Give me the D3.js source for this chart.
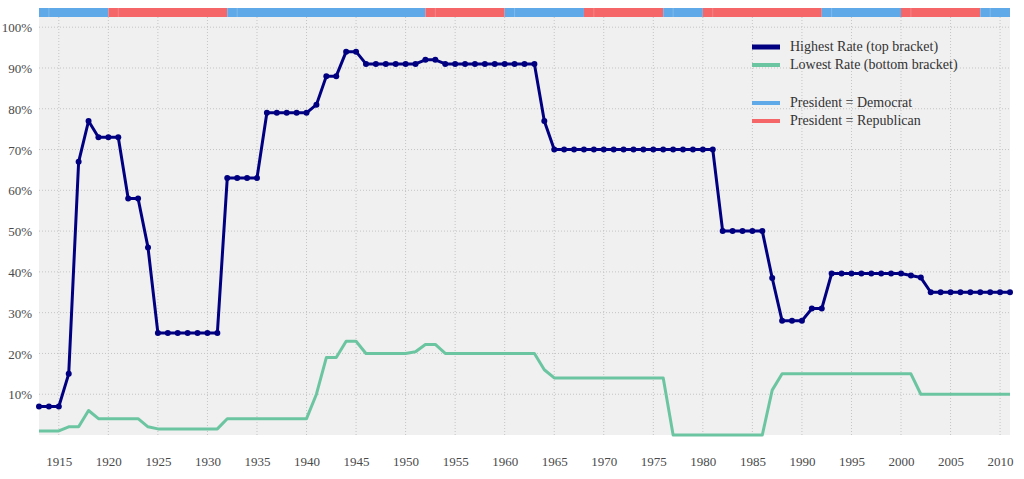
<!DOCTYPE html>
<html>
<head>
<meta charset="utf-8">
<script src="https://cdn.jsdelivr.net/npm/d3@7"></script>
<style>
  body { margin: 0; background: #fff; }
  svg text { font-family: "Liberation Serif", "DejaVu Serif", serif; fill: #4a4a4a; }
</style>
</head>
<body>
<svg id="chart" width="1024" height="479"></svg>
<script>
// tax years shown
var years = d3.range(1913, 2012);

// top marginal rate, %
var highestRate = [
  7, 7, 7, 15, 67, 77, 73, 73, 73, 58, 58, 46, 25, 25, 25, 25, 25, 25, 25,
  63, 63, 63, 63, 79, 79, 79, 79, 79, 81, 88, 88, 94, 94,
  91, 91, 91, 91, 91, 91, 92, 92, 91, 91, 91, 91, 91, 91, 91, 91, 91, 91,
  77,
  70, 70, 70, 70, 70, 70, 70, 70, 70, 70, 70, 70, 70, 70, 70, 70, 70,
  50, 50, 50, 50, 50,
  38.5, 28, 28, 28, 31, 31,
  39.6, 39.6, 39.6, 39.6, 39.6, 39.6, 39.6, 39.6, 39.1, 38.6,
  35, 35, 35, 35, 35, 35, 35, 35, 35
];

// bottom bracket rate, %
var lowestRate = [
  1, 1, 1, 2, 2, 6, 4, 4, 4, 4, 4, 2,
  1.5, 1.5, 1.5, 1.5, 1.5, 1.5, 1.5,
  4, 4, 4, 4, 4, 4, 4, 4, 4,
  10, 19, 19, 23, 23,
  20, 20, 20, 20, 20, 20.4, 22.2, 22.2,
  20, 20, 20, 20, 20, 20, 20, 20, 20, 20,
  16,
  14, 14, 14, 14, 14, 14, 14, 14, 14, 14, 14, 14,
  0, 0, 0, 0, 0, 0, 0, 0, 0, 0,
  11,
  15, 15, 15, 15, 15, 15, 15, 15, 15, 15, 15, 15, 15, 15,
  10, 10, 10, 10, 10, 10, 10, 10, 10, 10
];

// president's party, by term start
var termStarts  = [1913, 1920, 1932, 1952, 1960, 1968, 1976, 1980, 1992, 2000, 2008];
var termParties = ['D', 'R', 'D', 'R', 'D', 'R', 'D', 'R', 'D', 'R', 'D'];

var xTicks = d3.range(1915, 2011, 5);
var yTicks = [10, 20, 30, 40, 50, 60, 70, 80, 90, 100];

var navy = '#000080';
var green = '#6cc5a1';
var partyColor = { D: '#5fa9e8', R: '#f46667' };

// note: "top" is taken by window.top, so name the box edges plainly
var plotLeft = 39, plotRight = 1010, plotTop = 17, plotBottom = 435;

var x = d3.scaleLinear().domain([1913, 2011]).range([plotLeft, plotRight]);
var y = d3.scaleLinear().domain([0, 102.5]).range([plotBottom, plotTop]);

var svg = d3.select('#chart');

// plot background
svg.append('rect')
  .attr('x', plotLeft).attr('y', plotTop)
  .attr('width', plotRight - plotLeft).attr('height', plotBottom - plotTop)
  .style('fill', '#f0f0f0');

// grid
svg.append('g')
  .selectAll('line')
  .data(yTicks)
  .enter().append('line')
    .attr('x1', plotLeft).attr('x2', plotRight)
    .attr('y1', function(d) { return y(d); })
    .attr('y2', function(d) { return y(d); })
    .style('stroke', '#c4c4c4')
    .style('stroke-width', 1)
    .style('stroke-dasharray', '1,2');

svg.append('g')
  .selectAll('line')
  .data(xTicks)
  .enter().append('line')
    .attr('y1', plotTop).attr('y2', plotBottom)
    .attr('x1', function(d) { return x(d); })
    .attr('x2', function(d) { return x(d); })
    .style('stroke', '#c4c4c4')
    .style('stroke-width', 1)
    .style('stroke-dasharray', '1,2');

// axes, labels only
var yAxis = svg.append('g')
  .attr('transform', 'translate(' + (plotLeft - 4) + ',0)')
  .call(d3.axisLeft(y).tickValues(yTicks).tickSize(0).tickFormat(function(d) { return d + '%'; }));
yAxis.select('.domain').remove();
yAxis.selectAll('text').style('font-size', '13px').attr('dy', '0.35em');

var xAxis = svg.append('g')
  .attr('transform', 'translate(0,' + (plotBottom + 19) + ')')
  .call(d3.axisBottom(x).tickValues(xTicks).tickSize(0).tickFormat(d3.format('d')));
xAxis.select('.domain').remove();
xAxis.selectAll('text').style('font-size', '13px');

// president bar
var terms = termStarts.map(function(s, i) {
  return { start: s, end: i < termStarts.length - 1 ? termStarts[i + 1] : 2011, party: termParties[i] };
});
svg.append('g')
  .selectAll('rect')
  .data(terms)
  .enter().append('rect')
    .attr('x', function(d) { return x(d.start); })
    .attr('width', function(d) { return x(d.end) - x(d.start); })
    .attr('y', 8).attr('height', 9)
    .style('fill', function(d) { return partyColor[d.party]; });

// faint seam one year into each term
svg.append('g')
  .selectAll('line')
  .data(terms)
  .enter().append('line')
    .attr('x1', function(d) { return x(d.start + 1); })
    .attr('x2', function(d) { return x(d.start + 1); })
    .attr('y1', 8).attr('y2', 17)
    .style('stroke', '#fff')
    .style('stroke-opacity', 0.2);

// lines
var line = d3.line()
  .x(function(d) { return x(d[0]); })
  .y(function(d) { return y(d[1]); });

var lowData = years.map(function(yr, i) { return [yr, lowestRate[i]]; });
var highData = years.map(function(yr, i) { return [yr, highestRate[i]]; });

svg.append('path')
  .datum(lowData)
  .attr('d', line)
  .style('fill', 'none')
  .style('stroke', green)
  .style('stroke-width', 3)
  .style('stroke-linejoin', 'round');

svg.append('path')
  .datum(highData)
  .attr('d', line)
  .style('fill', 'none')
  .style('stroke', navy)
  .style('stroke-width', 3)
  .style('stroke-linejoin', 'round');

svg.append('g')
  .selectAll('circle')
  .data(highData)
  .enter().append('circle')
    .attr('cx', function(d) { return x(d[0]); })
    .attr('cy', function(d) { return y(d[1]); })
    .attr('r', 3)
    .style('fill', navy);

// legend
var legendItems = [
  { label: 'Highest Rate (top bracket)', color: navy, w: 5, y: 47 },
  { label: 'Lowest Rate (bottom bracket)', color: green, w: 4, y: 65 },
  { label: 'President = Democrat', color: partyColor.D, w: 4, y: 103 },
  { label: 'President = Republican', color: partyColor.R, w: 4, y: 121 }
];
var legend = svg.append('g').attr('class', 'legend');
legendItems.forEach(function(d) {
  legend.append('line')
    .attr('x1', 752).attr('x2', 780)
    .attr('y1', d.y).attr('y2', d.y)
    .style('stroke', d.color)
    .style('stroke-width', d.w);
  legend.append('text')
    .attr('x', 790).attr('y', d.y)
    .attr('dy', '0.3em')
    .style('font-size', '14px')
    .style('fill', '#333')
    .text(d.label);
});
</script>
</body>
</html>
